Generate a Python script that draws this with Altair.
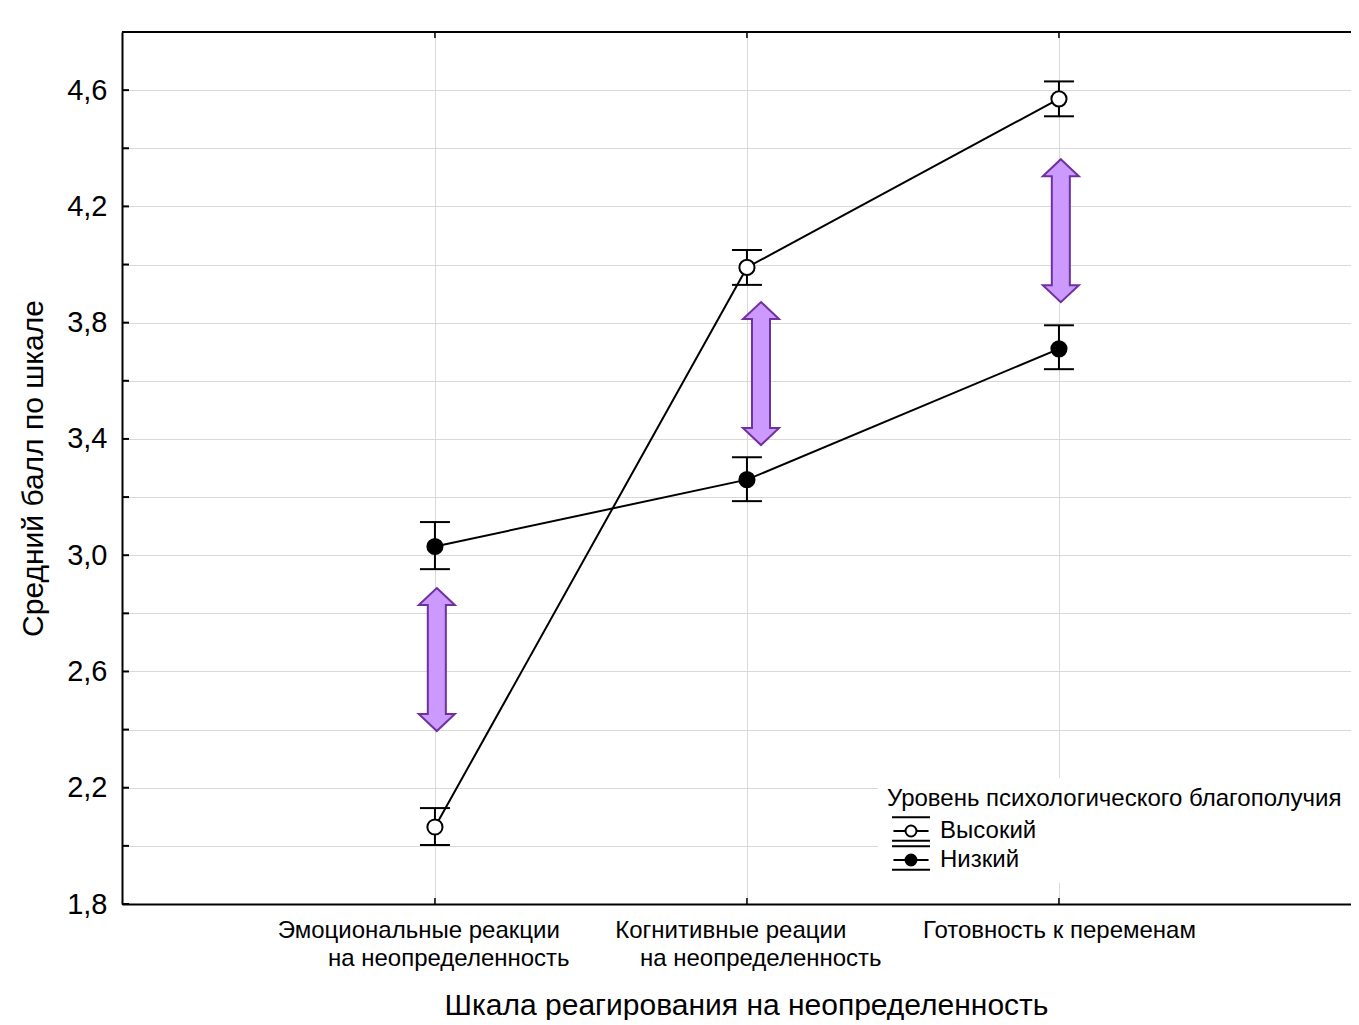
import json
import altair as alt
import pandas as pd

# ---------------- data ----------------
NB = "\u00a0"
ZW = "\u200b"
line1 = ["Эмоциональные реакции" + NB * 5 + ZW, "Когнитивные реации" + NB * 5 + ZW, "Готовность к переменам"]
line2 = [ZW + NB * 4 + "на неопределенность", ZW + NB * 4 + "на неопределенность", ""]
cat_pos = [0, 1, 2]
groups = ["Высокий", "Низкий"]
high_mean = [2.065, 3.99, 4.57]
high_lo = [2.003, 3.93, 4.51]
high_hi = [2.13, 4.05, 4.63]
low_mean = [3.03, 3.26, 3.71]
low_lo = [2.952, 3.186, 3.64]
low_hi = [3.114, 3.337, 3.791]
arrow_x = [0.006, 1.045, 2.006]
arrow_lo = [2.395, 3.379, 3.871]
arrow_hi = [2.887, 3.871, 4.362]
y_ticks = [1.8, 2.0, 2.2, 2.4, 2.6, 2.8, 3.0, 3.2, 3.4, 3.6, 3.8, 4.0, 4.2, 4.4, 4.6, 4.8]
y_labels = [1.8, 2.2, 2.6, 3.0, 3.4, 3.8, 4.2, 4.6]

rows = []
for g, m, lo, hi in ((groups[0], high_mean, high_lo, high_hi),
                     (groups[1], low_mean, low_lo, low_hi)):
    for p, mv, l, h in zip(cat_pos, m, lo, hi):
        rows.append({"pos": p, "group": g, "mean": mv, "lo": l, "hi": h})
pts = pd.DataFrame(rows)
arrows = pd.DataFrame({"pos": arrow_x, "lo": arrow_lo, "hi": arrow_hi})
ticks_df = pd.DataFrame({"t": y_ticks})
cats_df = pd.DataFrame({"pos": cat_pos})

FONT = "Liberation Sans"
W, H = 1229, 872

parts = []
for p, a, b in zip(cat_pos, line1, line2):
    lines = [a, b] if b else [a]
    parts.append(f"datum.value == {p} ? {json.dumps(lines, ensure_ascii=True)}")
x_label_expr = " : ".join(parts) + " : ''"
y_label_expr = (f"indexof({json.dumps(y_labels)}, round(datum.value*10)/10) >= 0 ? "
                "replace(format(datum.value, '.1f'), '.', ',') : ''")

x_scale = alt.Scale(domain=[-1.003, 2.936], nice=False, zero=False)
y_scale = alt.Scale(domain=[1.8, 4.8], nice=False, zero=False)

x_axis = alt.Axis(values=cat_pos, labelExpr=x_label_expr, title="Шкала реагирования на неопределенность",
                  labelFontSize=24, labelLineHeight=28, labelPadding=14, labelFont=FONT,
                  labelColor="black", labelLimit=600, titleFont=FONT, titleFontSize=30,
                  titleFontWeight="normal", titleColor="black", titlePadding=20, titleX=624,
                  titleAlign="center", ticks=False,
                  grid=True, gridColor="#d9d9d9", gridWidth=1, domainColor="black", domainWidth=2,
                  labelFlush=False, labelOverlap=False)
y_axis = alt.Axis(values=y_ticks, labelExpr=y_label_expr, title="Средний балл по шкале",
                  labelFontSize=29, labelPadding=15, labelFont=FONT, labelColor="black",
                  titleFont=FONT, titleFontSize=30, titleFontWeight="normal", titleColor="black",
                  titlePadding=18, ticks=False, grid=True, gridColor="#d9d9d9", gridWidth=1,
                  domainColor="black", domainWidth=2, labelOverlap=False, labelFlush=False)

X = alt.X("pos:Q", scale=x_scale, axis=x_axis)
Y_mean = alt.Y("mean:Q", scale=y_scale, axis=y_axis)

base = alt.Chart(pts)

lines_layer = base.mark_line(color="black", strokeWidth=2).encode(x=X, y=Y_mean, detail="group:N")

err_layer = base.mark_rule(color="black", strokeWidth=2).encode(
    x=X, y=alt.Y("lo:Q", scale=y_scale, axis=y_axis), y2="hi:Q")

cap_path = "M-1,0L1,0"
cap_lo = base.mark_point(shape=cap_path, size=900, filled=False, stroke="black",
                         strokeWidth=2, opacity=1).encode(x=X, y=alt.Y("lo:Q", scale=y_scale, axis=y_axis))
cap_hi = base.mark_point(shape=cap_path, size=900, filled=False, stroke="black",
                         strokeWidth=2, opacity=1).encode(x=X, y=alt.Y("hi:Q", scale=y_scale, axis=y_axis))

legend_path = ("M-1.46,-1.05L1.46,-1.05M-1.46,0.75L1.46,0.75M-1.35,0L-0.42,0M0.42,0L1.35,0"
               "M0.42,0A0.42,0.42,0,1,1,-0.42,0A0.42,0.42,0,1,1,0.42,0Z")

points_layer = base.mark_point(filled=True, size=230, stroke="black", strokeWidth=2,
                               opacity=1, fillOpacity=1).encode(
    x=X, y=Y_mean,
    fill=alt.Fill("group:N", scale=alt.Scale(domain=groups, range=["white", "black"]),
                  legend=alt.Legend(title="Уровень психологического благополучия", orient="none",
                                    legendX=756, legendY=746, fillColor="white", padding=9,
                                    symbolType=legend_path, symbolSize=676,
                                    symbolStrokeColor="black", symbolStrokeWidth=2,
                                    labelFont=FONT, labelFontSize=24, labelColor="black",
                                    titleFont=FONT, titleFontSize=24, titleFontWeight="normal",
                                    titleColor="black", titlePadding=6, rowPadding=-3,
                                    labelOffset=15, symbolOffset=10, titleLimit=700)))

arrow_path = ("M0,-1L0.252,-0.762L0.126,-0.762L0.126,0.762L0.252,0.762L0,1"
              "L-0.252,0.762L-0.126,0.762L-0.126,-0.762L-0.252,-0.762Z")
arrow_layer = alt.Chart(arrows).transform_calculate(
    mid="(datum.lo + datum.hi) / 2"
).mark_point(shape=arrow_path, size=143 * 143, filled=True, fill="#cc99ff", stroke="#7030a0",
             strokeWidth=2, opacity=1, fillOpacity=1).encode(
    x=X, y=alt.Y("mid:Q", scale=y_scale, axis=y_axis))

# inward ticks
left_ticks = alt.Chart(ticks_df).mark_rule(color="black", strokeWidth=2).encode(
    x=alt.value(0), x2=alt.value(7), y=alt.Y("t:Q", scale=y_scale, axis=y_axis))
top_ticks = alt.Chart(cats_df).mark_rule(color="black", strokeWidth=1.5).encode(
    x=X, y=alt.value(0), y2=alt.value(6))
bottom_ticks = alt.Chart(cats_df).mark_rule(color="black", strokeWidth=1.5).encode(
    x=X, y=alt.value(H - 6), y2=alt.value(H))
top_border = alt.Chart(cats_df).mark_rule(color="black", strokeWidth=2).encode(
    x=alt.value(0), x2=alt.value(W), y=alt.value(0))

chart = alt.layer(
    lines_layer, err_layer, cap_lo, cap_hi, points_layer, arrow_layer,
    left_ticks, top_ticks, bottom_ticks, top_border
).properties(
    width=W, height=H,
    autosize=alt.AutoSizeParams(type="none"),
    padding={"left": 114, "top": 24, "right": 0, "bottom": 116},
    background="white",
).configure_view(stroke=None)

chart.save("out.html", embed_options={"renderer": "svg", "actions": False})
